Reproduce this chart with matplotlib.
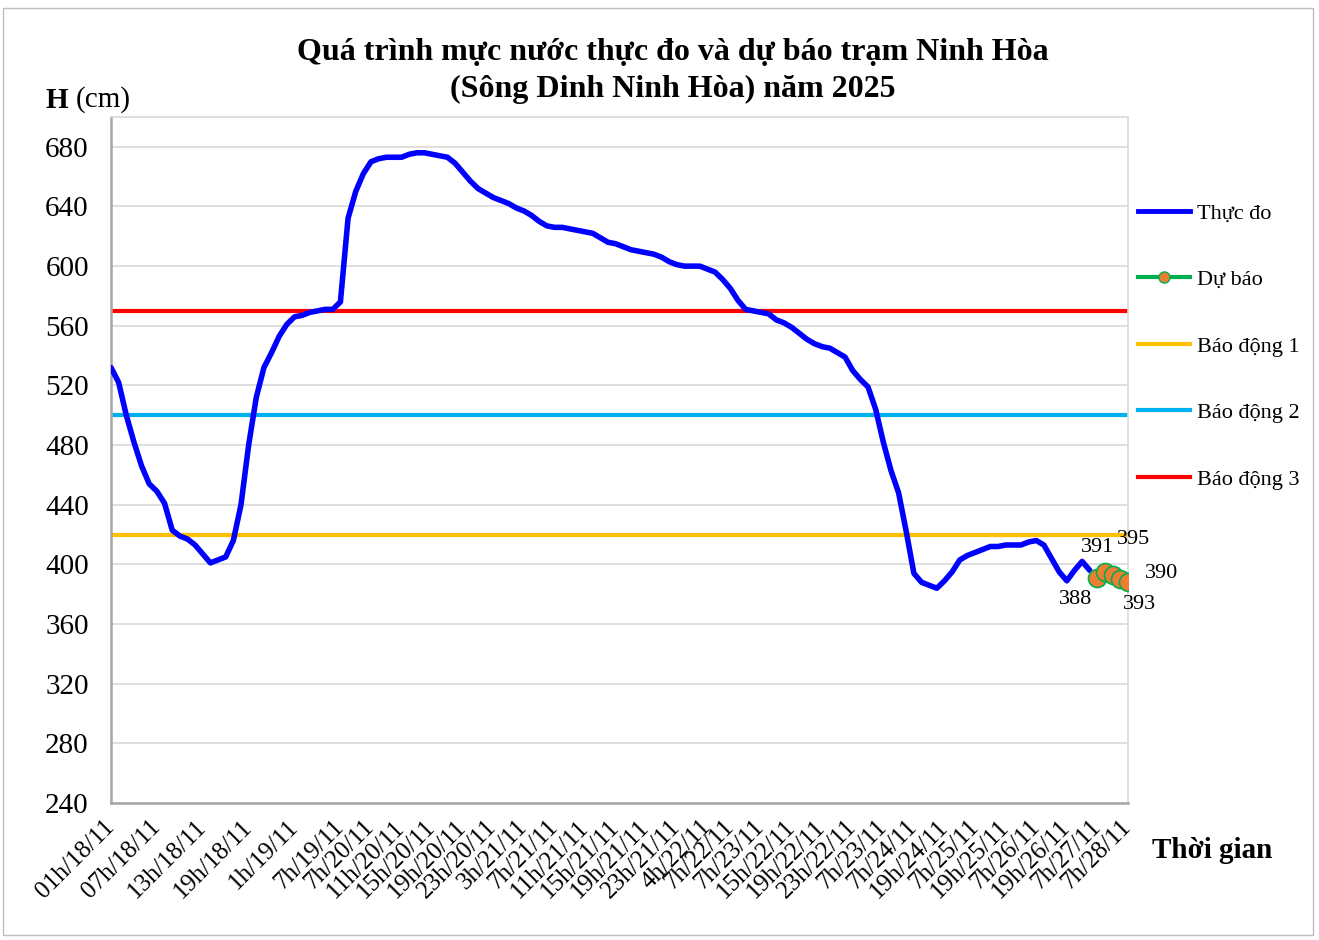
import matplotlib
matplotlib.use("Agg")
import matplotlib.pyplot as plt
from matplotlib.patches import Rectangle
from matplotlib.lines import Line2D

# ---------------------------------------------------------------------------
# data
# ---------------------------------------------------------------------------
observed = [
    532, 522, 500, 482, 466, 454, 449, 441, 423, 419,
    417, 413, 407, 401, 403, 405, 416, 440, 480, 512,
    532, 542, 553, 561, 566, 567, 569, 570, 571, 571,
    576, 632, 650, 662, 670, 672, 673, 673, 673, 675,
    676, 676, 675, 674, 673, 669, 663, 657, 652, 649,
    646, 644, 642, 639, 637, 634, 630, 627, 626, 626,
    625, 624, 623, 622, 619, 616, 615, 613, 611, 610,
    609, 608, 606, 603, 601, 600, 600, 600, 598, 596,
    591, 585, 577, 571, 570, 569, 568, 564, 562, 559,
    555, 551, 548, 546, 545, 542, 539, 530, 524, 519,
    504, 482, 463, 448, 422, 394, 388, 386, 384, 389,
    395, 403, 406, 408, 410, 412, 412, 413, 413, 413,
    415, 416, 413, 404, 395, 389, 396, 402, 396,
]
forecast = [391, 395, 393, 390, 388]
forecast_start = len(observed)

alarm_1 = 420
alarm_2 = 500
alarm_3 = 570

tick_idx = [0, 6, 12, 18, 24, 30, 34, 38, 42, 46, 50, 54, 58, 62, 66, 70,
            74, 78, 81, 85, 89, 93, 97, 101, 105, 109, 113, 117, 121, 125,
            129, 133]
tick_labels = [
    "01h/18/11", "07h/18/11", "13h/18/11", "19h/18/11", "1h/19/11",
    "7h/19/11", "7h/20/11", "11h/20/11", "15h/20/11", "19h/20/11",
    "23h/20/11", "3h/21/11", "7h/21/11", "11h/21/11", "15h/21/11",
    "19h/21/11", "23h/21/11", "4h/22/11", "7h/22/11", "7h/23/11",
    "15h/22/11", "19h/22/11", "23h/22/11", "7h/23/11", "7h/24/11",
    "19h/24/11", "7h/25/11", "19h/25/11", "7h/26/11", "19h/26/11",
    "7h/27/11", "7h/28/11",
]
y_ticks = list(range(240, 681, 40))

# label offsets (pixels) for the forecast values, as placed in the original
label_offsets = [(0, 30), (29, 32), (27, -30), (41, 6), (-52, -17)]

# ---------------------------------------------------------------------------
# figure
# ---------------------------------------------------------------------------
plt.rcParams["font.family"] = ["Liberation Serif", "DejaVu Serif"]

W, H = 1319, 940
fig = plt.figure(figsize=(W / 100, H / 100), dpi=100)
fig.patch.set_facecolor("white")
ax = fig.add_axes([111 / W, 1 - 803 / H, (1128 - 111) / W, (803 - 117) / H])

n_total = forecast_start + len(forecast)
x_obs = list(range(forecast_start))
x_fc = list(range(forecast_start, n_total))
x_all = [0, n_total - 1]

ax.plot(x_all, [alarm_3, alarm_3], color="#FF0000", lw=3, zorder=2)
ax.plot(x_all, [alarm_2, alarm_2], color="#00B0F0", lw=3, zorder=2)
ax.plot(x_all, [alarm_1, alarm_1], color="#FFC000", lw=3, zorder=2)
ax.plot(x_obs, observed, color="#0000FF", lw=4, zorder=3,
        solid_joinstyle="round", solid_capstyle="round")
ax.plot(x_fc, forecast, color="#00B050", lw=3, marker="o", ms=13,
        mfc="#ED7D31", mec="#00B050", mew=1.2, zorder=4)

for x, v, (dx, dy) in zip(x_fc, forecast, label_offsets):
    ax.annotate(str(v), (x, v), xytext=(dx, dy), textcoords="offset pixels",
                ha="center", va="center", fontsize=16, zorder=5)

ax.set_xlim(0, n_total - 1)
ax.set_ylim(240, 700)
ax.set_yticks(y_ticks)
ax.set_yticklabels([str(v) for v in y_ticks], fontsize=21)
ax.set_xticks(tick_idx)
ax.set_xticklabels(tick_labels, fontsize=18, rotation=45, ha="right",
                   va="center", rotation_mode="anchor")
ax.tick_params(axis="y", length=0, pad=16)
ax.tick_params(axis="x", length=0, pad=15)

ax.grid(axis="y", color="#D9D9D9", lw=1.2)
ax.set_axisbelow(True)
for side in ["top", "right"]:
    ax.spines[side].set_color("#D9D9D9")
    ax.spines[side].set_linewidth(1.2)
for side in ["left", "bottom"]:
    ax.spines[side].set_color("#A6A6A6")
    ax.spines[side].set_linewidth(1.8)

# legend (outside the plot area, on the right)
handles = [
    Line2D([], [], color="#0000FF", lw=3.5),
    Line2D([], [], color="#00B050", lw=3, marker="o", ms=8,
           mfc="#ED7D31", mec="#00B050"),
    Line2D([], [], color="#FFC000", lw=3),
    Line2D([], [], color="#00B0F0", lw=3),
    Line2D([], [], color="#FF0000", lw=3),
]
names = ["Thực đo", "Dự báo", "Báo động 1", "Báo động 2", "Báo động 3"]
fig.legend(handles, names, loc="upper left",
           bbox_to_anchor=(1138 / W, 1 - 203 / H), frameon=False,
           fontsize=16, handlelength=2.35, handletextpad=0.3,
           labelspacing=2.07, borderpad=0, borderaxespad=0)

# titles and axis captions
fig.text(673 / W, 1 - 52 / H,
         "Quá trình mực nước thực đo và dự báo trạm Ninh Hòa",
         ha="center", va="center", fontsize=23, fontweight="bold")
fig.text(673 / W, 1 - 89 / H, "(Sông Dinh Ninh Hòa) năm 2025",
         ha="center", va="center", fontsize=23, fontweight="bold")
fig.text(45 / W, 1 - 100 / H, "H", ha="left", va="center",
         fontsize=21, fontweight="bold")
fig.text(76 / W, 1 - 100 / H, "(cm)", ha="left", va="center", fontsize=21)
fig.text(1152 / W, 1 - 851 / H, "Thời gian", ha="left", va="center",
         fontsize=21, fontweight="bold")

# chart area border
fig.add_artist(Rectangle((3 / W, 5 / H), (1313 - 3) / W, (932 - 5) / H,
                         transform=fig.transFigure, fill=False,
                         ec="#BFBFBF", lw=1))

fig.savefig("out.png", dpi=100, facecolor=fig.get_facecolor())
